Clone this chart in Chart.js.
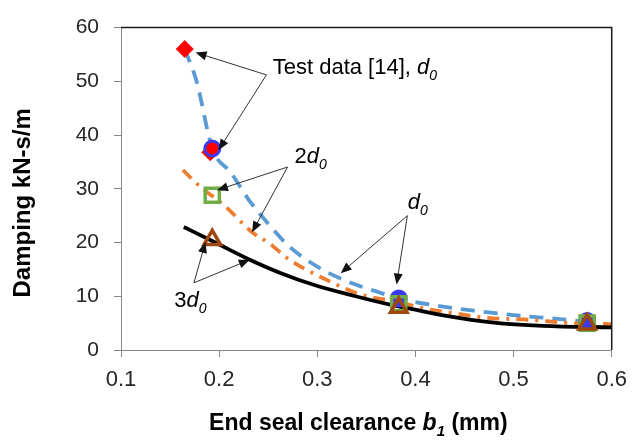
<!DOCTYPE html>
<html>
<head>
<meta charset="utf-8">
<script src="https://cdn.jsdelivr.net/npm/chart.js@4.4.0/dist/chart.umd.min.js"></script>
<style>
  html, body { margin: 0; padding: 0; background: #fff; }
  #wrap { width: 637px; height: 443px; }
</style>
</head>
<body>
<div id="wrap"><canvas id="dampingChart" width="637" height="443"></canvas></div>
<script>
// Achsen-Ticks
const xTicks = [0.1, 0.2, 0.3, 0.4, 0.5, 0.6];
const yTicks = [0, 10, 20, 30, 40, 50, 60];

// Modellkurven
const d0CurveX = [0.165, 0.177, 0.193, 0.212, 0.23, 0.25, 0.27, 0.3, 0.33, 0.36, 0.383, 0.42, 0.46, 0.5, 0.55, 0.585];
const d0CurveY = [56, 50, 37.5, 33, 28, 23.5, 19.5, 15.5, 12.8, 10.9, 9.6, 8.3, 7.3, 6.5, 5.7, 5.1];

const d2CurveX = [0.163, 0.18, 0.206, 0.233, 0.253, 0.27, 0.31, 0.343, 0.38, 0.41, 0.43, 0.473, 0.518, 0.558, 0.6];
const d2CurveY = [33.5, 30.5, 26.8, 22, 19.6, 17, 13, 10.4, 9.0, 7.7, 7.1, 6.0, 5.6, 5.0, 4.8];

const d3CurveX = [0.164, 0.196, 0.229, 0.263, 0.297, 0.337, 0.373, 0.397, 0.43, 0.48, 0.53, 0.6];
const d3CurveY = [22.9, 20, 17, 14.3, 12.1, 10.1, 8.5, 7.6, 6.4, 5.1, 4.5, 4.2];

// Messpunkte
const testX = [0.165, 0.191];
const testY = [56, 36.8];
const pointsX = [0.193, 0.383, 0.575];
const d0PointsY = [37.5, 9.6, 5.4];
const d2PointsY = [28.8, 8.6, 5.0];
const d3PointsY = [20.5, 7.9, 4.8];

// Beschriftungen mit Pfeilen (Datenkoordinaten)
const notes = [
  { text: [{ t: "Test data [14], " }, { t: "d", it: true }, { t: "0", it: true, sub: true }],
    at: [0.2546, 51.4], from: [0.2482, 51.2], to: [[0.176, 55.36], [0.1994, 37.2]] },
  { text: [{ t: "2" }, { t: "d", it: true }, { t: "0", it: true, sub: true }],
    at: [0.2767, 34.8], from: [0.2697, 34.05], to: [[0.1978, 29.75], [0.2335, 21.9]] },
  { text: [{ t: "d", it: true }, { t: "0", it: true, sub: true }],
    at: [0.3922, 26.25], from: [0.3918, 25.0], to: [[0.3239, 14.3], [0.3808, 12.2]] },
  { text: [{ t: "3" }, { t: "d", it: true }, { t: "0", it: true, sub: true }],
    at: [0.1542, 8.04], from: [0.1743, 12.5], to: [[0.1861, 20.1], [0.2312, 16.8]] }
];

const FONT = '"Liberation Sans", Arial, sans-serif';

function pts(xs, ys) {
  return xs.map((x, i) => ({ x: x, y: ys[i] }));
}

function fontFor(p, size, bold) {
  const fs = p.sub ? Math.round(size * 0.65) : size;
  return (p.it ? "italic " : "") + (bold ? "bold " : "") + fs + "px " + FONT;
}

function richWidth(ctx, parts, size, bold) {
  let w = 0;
  parts.forEach(p => { ctx.font = fontFor(p, size, bold); w += ctx.measureText(p.t).width; });
  return w;
}

function drawRich(ctx, parts, x, y, size, bold) {
  let cx = x;
  parts.forEach(p => {
    ctx.font = fontFor(p, size, bold);
    ctx.fillText(p.t, cx, y + (p.sub ? size * 0.28 : 0));
    cx += ctx.measureText(p.t).width;
  });
}

function arrow(ctx, x1, y1, x2, y2) {
  const a = Math.atan2(y2 - y1, x2 - x1);
  const len = 11, half = 4.5;
  ctx.beginPath();
  ctx.moveTo(x1, y1);
  ctx.lineTo(x2 - Math.cos(a) * len * 0.8, y2 - Math.sin(a) * len * 0.8);
  ctx.stroke();
  ctx.beginPath();
  ctx.moveTo(x2, y2);
  ctx.lineTo(x2 - Math.cos(a) * len - Math.sin(a) * half, y2 - Math.sin(a) * len + Math.cos(a) * half);
  ctx.lineTo(x2 - Math.cos(a) * len + Math.sin(a) * half, y2 - Math.sin(a) * len - Math.cos(a) * half);
  ctx.closePath();
  ctx.fill();
}

// Rahmen, Achsentitel und Pfeil-Beschriftungen
const extras = {
  id: "extras",
  afterDraw(chart) {
    const { ctx, chartArea: area, scales } = chart;
    const sx = scales.x, sy = scales.y;
    ctx.save();

    // oberer und rechter Rahmen
    ctx.strokeStyle = "#1a1a1a";
    ctx.lineWidth = 1.5;
    ctx.beginPath();
    ctx.moveTo(area.left, area.top);
    ctx.lineTo(area.right, area.top);
    ctx.lineTo(area.right, area.bottom);
    ctx.stroke();

    // Pfeile
    ctx.strokeStyle = "#333";
    ctx.fillStyle = "#111";
    ctx.lineWidth = 1;
    notes.forEach(n => {
      const ox = sx.getPixelForValue(n.from[0]), oy = sy.getPixelForValue(n.from[1]);
      n.to.forEach(t => arrow(ctx, ox, oy, sx.getPixelForValue(t[0]), sy.getPixelForValue(t[1])));
    });

    // Texte
    ctx.fillStyle = "#000";
    ctx.textBaseline = "alphabetic";
    ctx.textAlign = "left";
    notes.forEach(n => {
      drawRich(ctx, n.text, sx.getPixelForValue(n.at[0]), sy.getPixelForValue(n.at[1]), 22, false);
    });

    // x-Achsentitel
    const xTitle = [{ t: "End seal clearance " }, { t: "b", it: true }, { t: "1", it: true, sub: true }, { t: " (mm)" }];
    const wx = richWidth(ctx, xTitle, 23, true);
    drawRich(ctx, xTitle, (area.left + area.right) / 2 - 8 - wx / 2, 430, 23, true);

    // y-Achsentitel
    ctx.translate(30, (area.top + area.bottom) / 2 + 14);
    ctx.rotate(-Math.PI / 2);
    ctx.font = "bold 24px " + FONT;
    ctx.textAlign = "center";
    ctx.fillText("Damping kN-s/m", 0, 0);
    ctx.restore();
  }
};

const lineBase = { showLine: true, pointRadius: 0, borderWidth: 3.8, fill: false, cubicInterpolationMode: "monotone" };

new Chart(document.getElementById("dampingChart"), {
  type: "scatter",
  data: {
    datasets: [
      { label: "3d0 Punkte", data: pts(pointsX, d3PointsY), pointStyle: "triangle", pointRadius: 9.5,
        borderColor: "#9E480E", backgroundColor: "rgba(0,0,0,0)", pointBorderWidth: 3.5 },
      { label: "2d0 Punkte", data: pts(pointsX, d2PointsY), pointStyle: "rect", pointRadius: 10,
        borderColor: "#70AD47", backgroundColor: "rgba(0,0,0,0)", pointBorderWidth: 3.5 },
      { label: "d0 Punkte", data: pts(pointsX, d0PointsY), pointStyle: "circle", pointRadius: 7.5,
        borderColor: "#3A3AF0", backgroundColor: ["#FF0000", "#3A3AF0", "#3A3AF0"], pointBorderWidth: 3 },
      { label: "Test data", data: pts(testX, testY), pointStyle: "rectRot", pointRadius: 8.5,
        borderColor: "#FF0000", backgroundColor: "#FF0000", pointBorderWidth: 1 },
      Object.assign({ label: "3d0", data: pts(d3CurveX, d3CurveY), borderColor: "#000" }, lineBase),
      Object.assign({ label: "2d0", data: pts(d2CurveX, d2CurveY), borderColor: "#ED7D31", borderDash: [12, 7, 3, 7] }, lineBase),
      Object.assign({ label: "d0", data: pts(d0CurveX, d0CurveY), borderColor: "#5B9BD5", borderDash: [14, 9] }, lineBase)
    ]
  },
  options: {
    responsive: false,
    animation: false,
    layout: { padding: { top: 14, right: 18, left: 0, bottom: 0 } },
    plugins: { legend: { display: false }, tooltip: { enabled: false } },
    scales: {
      x: {
        type: "linear", min: 0.1, max: 0.6,
        afterBuildTicks: s => { s.ticks = xTicks.map(v => ({ value: v })); },
        afterFit: s => { s.height = 93; },
        ticks: { color: "#262626", font: { family: FONT, size: 22 }, padding: 10, maxRotation: 0,
          callback: v => v.toFixed(1) },
        grid: { drawOnChartArea: false, tickLength: 7, color: "#868686" },
        border: { color: "#868686", width: 1 }
      },
      y: {
        type: "linear", min: 0, max: 60,
        afterBuildTicks: s => { s.ticks = yTicks.map(v => ({ value: v })); },
        afterFit: s => { s.width = 121; },
        ticks: { color: "#262626", font: { family: FONT, size: 21 }, padding: 15 },
        grid: { drawOnChartArea: false, tickLength: 7, color: "#868686" },
        border: { color: "#868686", width: 1 }
      }
    }
  },
  plugins: [extras]
});
</script>
</body>
</html>
